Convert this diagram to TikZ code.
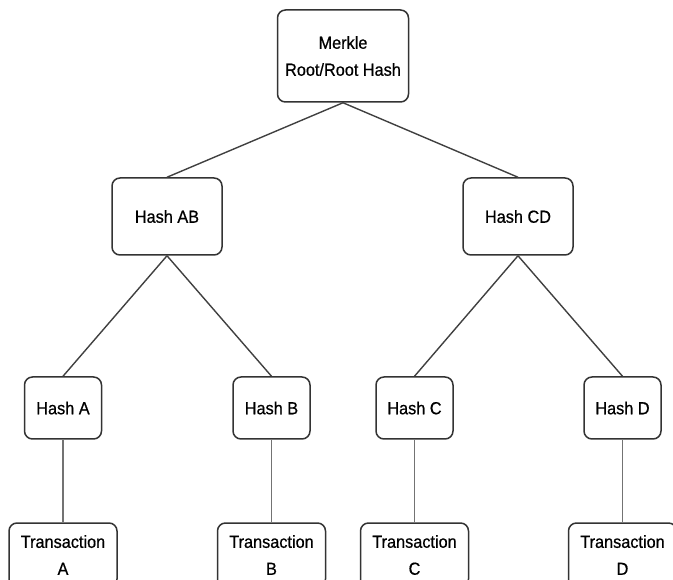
\documentclass[tikz,border=0pt]{standalone}
\usepackage{fontspec}
\setmainfont{Liberation Sans}[FakeStretch=0.93,FakeBold=0.6]

\begin{document}
\begin{tikzpicture}[x=1pt,y=-1pt,
   every node/.style={draw=black!80,line width=1.5pt,rounded corners=8pt,
      align=center,inner sep=0pt,font=\fontsize{17.5}{27}\selectfont},
   rootbox/.style={minimum width=131pt,minimum height=92pt},
   pairbox/.style={minimum width=110pt,minimum height=77pt},
   leafbox/.style={minimum width=77pt,minimum height=62pt},
   txbox/.style={minimum width=108pt,minimum height=64pt},
   link/.style={draw=black!75,line width=1.4pt}]
\clip (0,0) rectangle (673,580);
\node[rootbox] (root) at (343,56) {Merkle\\Root/Root Hash};
\node[pairbox] (hashAB) at (167,216.5) {Hash AB};
\node[pairbox] (hashCD) at (518,216.5) {Hash CD};
\node[leafbox] (hashA) at (63,408) {Hash A};
\node[leafbox] (hashB) at (271.5,408) {Hash B};
\node[leafbox] (hashC) at (414.5,408) {Hash C};
\node[leafbox] (hashD) at (622.5,408) {Hash D};
\node[txbox] (txA) at (63,555) {Transaction\\A};
\node[txbox] (txB) at (271.5,555) {Transaction\\B};
\node[txbox] (txC) at (414.5,555) {Transaction\\C};
\node[txbox] (txD) at (622.5,555) {Transaction\\D};
\draw[link] (root.south) -- (hashAB.north);
\draw[link] (root.south) -- (hashCD.north);
\draw[link] (hashAB.south) -- (hashA.north);
\draw[link] (hashAB.south) -- (hashB.north);
\draw[link] (hashCD.south) -- (hashC.north);
\draw[link] (hashCD.south) -- (hashD.north);
\draw[link,draw=black!55] (hashA) -- (txA);
\draw[link,draw=black!55] (hashB) -- (txB);
\draw[link,draw=black!55] (hashC) -- (txC);
\draw[link,draw=black!55] (hashD) -- (txD);
\end{tikzpicture}
\end{document}
